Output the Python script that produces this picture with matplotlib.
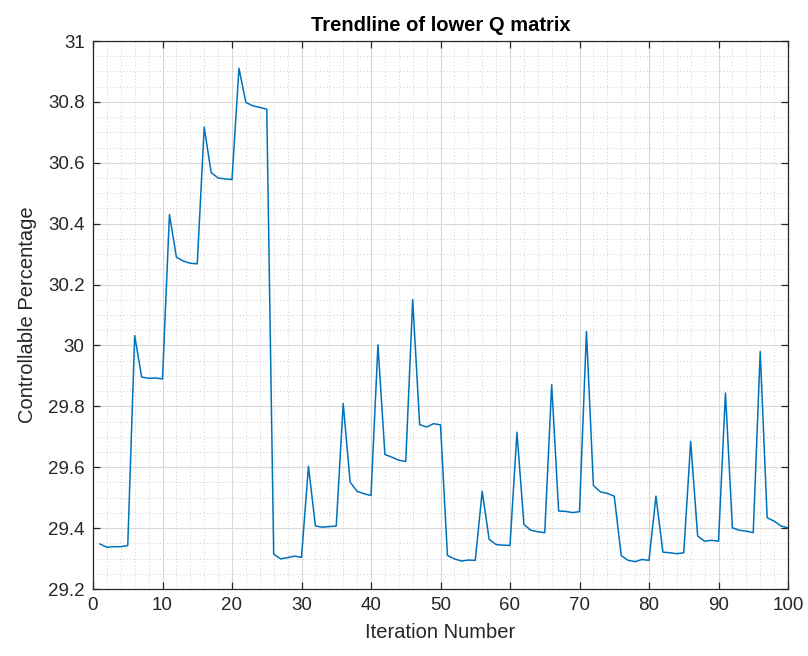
import matplotlib
matplotlib.use("Agg")
import matplotlib.pyplot as plt
from matplotlib.ticker import MultipleLocator
import numpy as np

iterations = list(range(1, 101))
controllable = [
    29.348, 29.337, 29.339, 29.339, 29.343,
    30.032, 29.896, 29.892, 29.893, 29.890,
    30.430, 30.290, 30.277, 30.270, 30.268,
    30.717, 30.568, 30.550, 30.547, 30.545,
    30.910, 30.798, 30.787, 30.782, 30.776,
    29.314, 29.299, 29.303, 29.308, 29.304,
    29.603, 29.407, 29.403, 29.405, 29.407,
    29.809, 29.551, 29.521, 29.513, 29.507,
    30.002, 29.642, 29.633, 29.623, 29.619,
    30.150, 29.740, 29.732, 29.743, 29.739,
    29.310, 29.299, 29.292, 29.295, 29.294,
    29.521, 29.363, 29.346, 29.344, 29.343,
    29.715, 29.412, 29.393, 29.388, 29.385,
    29.871, 29.456, 29.455, 29.451, 29.454,
    30.046, 29.540, 29.519, 29.514, 29.505,
    29.310, 29.294, 29.290, 29.297, 29.294,
    29.505, 29.321, 29.319, 29.316, 29.319,
    29.685, 29.374, 29.357, 29.360, 29.357,
    29.844, 29.401, 29.393, 29.390, 29.385,
    29.980, 29.434, 29.423, 29.407, 29.401,
]

x_ticks = [0, 10, 20, 30, 40, 50, 60, 70, 80, 90, 100]
y_ticks = [29.2, 29.4, 29.6, 29.8, 30.0, 30.2, 30.4, 30.6, 30.8, 31.0]
y_tick_labels = ["29.2", "29.4", "29.6", "29.8", "30", "30.2", "30.4", "30.6", "30.8", "31"]

plt.rcParams['font.family'] = ['Liberation Sans', 'DejaVu Sans']
text_color = '#262626'

fig = plt.figure(figsize=(8.08, 6.56), dpi=100)
ax = fig.add_axes([93 / 808, 1 - 589 / 656, (788 - 93) / 808, (589 - 41) / 656])

ax.plot(iterations, controllable, color='#0072BD', linewidth=1.1)

ax.set_xlim(0, 100)
ax.set_ylim(29.2, 31)
ax.set_xticks(x_ticks)
ax.set_yticks(y_ticks)
ax.set_yticklabels(y_tick_labels)
ax.xaxis.set_minor_locator(MultipleLocator(2))
ax.yaxis.set_minor_locator(MultipleLocator(0.05))

ax.grid(which='major', color='#d9d9d9', linestyle='-', linewidth=0.8)
ax.grid(which='minor', color='#bdbdbd', linestyle=(0, (1, 3)), linewidth=0.6)
ax.set_axisbelow(True)

ax.tick_params(which='major', direction='in', length=5, width=0.9, top=True, right=True,
               colors=text_color, labelsize=13.5, pad=6)
ax.tick_params(which='minor', length=0, top=True, right=True)
for s in ax.spines.values():
    s.set_color('#262626')
    s.set_linewidth(0.9)

ax.set_xlabel('Iteration Number', fontsize=14.5, color=text_color, labelpad=6)
ax.set_ylabel('Controllable Percentage', fontsize=14.5, color=text_color, labelpad=8)
ax.set_title('Trendline of lower Q matrix', fontsize=14.5, fontweight='bold', color='black', pad=7)

fig.savefig('out.png', dpi=100, facecolor='white')
